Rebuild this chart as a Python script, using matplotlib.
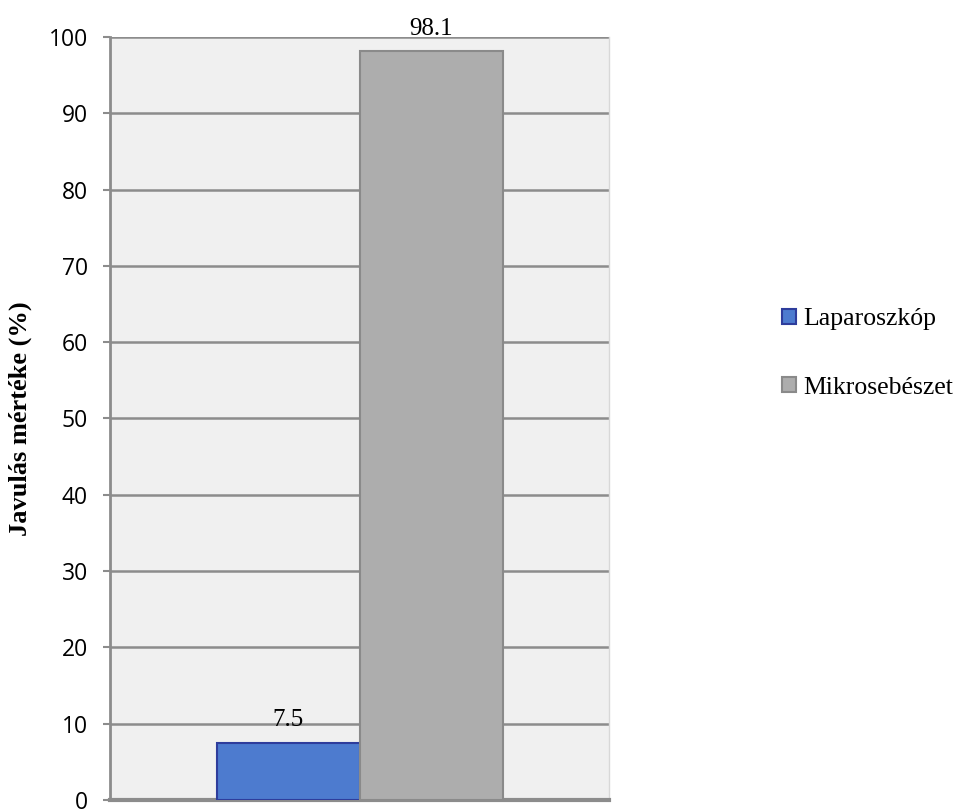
import matplotlib
matplotlib.use("Agg")
import matplotlib.pyplot as plt
import numpy as np

series = ["Laparoszkóp", "Mikrosebészet"]
values = [7.5, 98.1]
colors = ["#4d7bcf", "#adadad"]
edges = ["#2e3d9c", "#8a8a8a"]
yticks = [0, 10, 20, 30, 40, 50, 60, 70, 80, 90, 100]

fig = plt.figure(figsize=(9.62, 8.09), dpi=100)
ax = fig.add_axes([0.1143, 0.0111, 0.519, 0.9432])
ax.set_facecolor("#f0f0f0")

width = 0.2866
offsets = [-width / 2, width / 2]
for s, v, c, e, o in zip(series, values, colors, edges, offsets):
    ax.bar(o, v, width=width, color=c, edgecolor=e, linewidth=1.5, label=s, zorder=3)
    ax.text(o, v + 2.15, f"{v}", ha="center", va="baseline",
            fontfamily="Liberation Serif", fontsize=18, zorder=4)

ax.set_xlim(-0.5, 0.5)
ax.set_ylim(0, 100)
ax.set_yticks(yticks)
ax.set_yticklabels([str(t) for t in yticks], fontfamily="Open Sans", fontsize=16.5)
ax.set_xticks([])
ax.yaxis.grid(True, color="#8c8c8c", linewidth=1.8, zorder=1)
ax.set_axisbelow(True)
ax.tick_params(axis="y", length=5, color="#8c8c8c", width=1.5, pad=11)

ax.spines["top"].set_visible(False)
ax.spines["right"].set_color("#d8d8d8")
ax.spines["right"].set_linewidth(1)
ax.spines["left"].set_color("#8c8c8c")
ax.spines["left"].set_linewidth(2)
ax.spines["bottom"].set_color("#8c8c8c")
ax.spines["bottom"].set_linewidth(3)

ax.set_ylabel("Javulás mértéke (%)", fontfamily="Liberation Serif",
              fontweight="bold", fontsize=19, labelpad=12)

handles, labels = ax.get_legend_handles_labels()
leg = fig.legend(handles, labels, loc="center left", bbox_to_anchor=(0.8129, 0.563),
                 frameon=False, prop={"family": "Liberation Serif", "size": 18.5},
                 handlelength=0.55, handleheight=0.55, handletextpad=0.28,
                 labelspacing=1.8, borderpad=0, borderaxespad=0)

fig.savefig("out.png", dpi=100, facecolor="white")
